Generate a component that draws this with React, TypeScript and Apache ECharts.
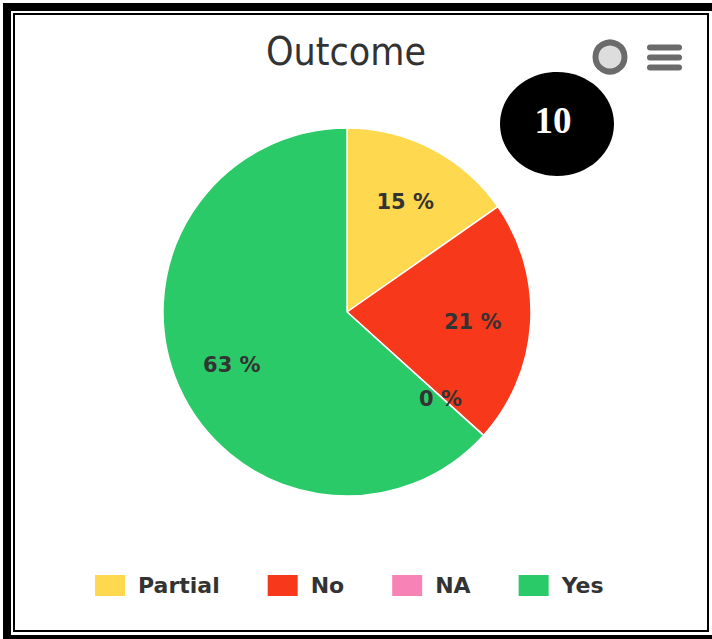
import React, { useEffect, useRef } from "react";
import * as echarts from "echarts";

const categories = ["Partial", "No", "NA", "Yes"];
const values = [15.3, 21.4, 0, 63.3];
const colors = ["#FED84E", "#F8381B", "#F782B6", "#2ACA68"];
const badgeText = "10";
const titleText = "Outcome";

export default function App() {
  const ref = useRef<HTMLDivElement>(null);
  useEffect(() => {
    if (!ref.current) return;
    const chart = echarts.init(ref.current, undefined, { renderer: "svg" });
    const data = categories.map((name, i) => ({
      name,
      value: values[i],
      itemStyle: { color: colors[i] },
    }));
    chart.setOption({
      animation: false,
      backgroundColor: "transparent",
      title: {
        text: titleText,
        left: 341,
        top: 27,
        textAlign: "center",
        textStyle: {
          fontFamily: "'DejaVu Sans Condensed', 'DejaVu Sans', sans-serif",
          fontSize: 39,
          fontWeight: "normal",
          color: "#333333",
        },
      },
      legend: {
        data: categories.map((name, i) => ({ name, itemStyle: { color: colors[i] } })),
        left: 93,
        top: 573,
        padding: 0,
        icon: "rect",
        itemWidth: 32,
        itemHeight: 23,
        itemGap: 46,
        selectedMode: false,
        textStyle: {
          fontFamily: "'DejaVu Sans', sans-serif",
          fontSize: 22,
          fontWeight: "bold",
          color: "#333333",
          padding: [0, 0, 0, 7],
        },
      },
      series: [
        {
          type: "pie",
          center: [347, 312],
          radius: [0, 184],
          startAngle: 90,
          clockwise: true,
          label: { show: false },
          labelLine: { show: false },
          emphasis: { disabled: true },
          itemStyle: { borderColor: "#ffffff", borderWidth: 1.5 },
          data,
        },
        {
          type: "pie",
          center: [347, 314],
          radius: [62, 184],
          startAngle: 90,
          clockwise: true,
          silent: true,
          emphasis: { disabled: true },
          itemStyle: { color: "rgba(0,0,0,0)", borderWidth: 0 },
          labelLine: { show: false },
          label: {
            show: true,
            position: "inside",
            formatter: (p: any) => Math.round(p.percent) + " %",
            fontFamily: "'DejaVu Sans', sans-serif",
            fontSize: 21,
            fontWeight: "bold",
            color: "#333333",
          },
          data: categories.map((name, i) => ({ name, value: values[i] })),
        },
      ],
      graphic: [
        {
          type: "circle",
          shape: { cx: 610, cy: 57, r: 14.5 },
          style: { fill: "#dddddd", stroke: "#6b6b6b", lineWidth: 6 },
        },
        {
          type: "rect",
          shape: { x: 647, y: 44.5, width: 35, height: 6, r: 3 },
          style: { fill: "#6b6b6b" },
        },
        {
          type: "rect",
          shape: { x: 647, y: 54.5, width: 35, height: 6, r: 3 },
          style: { fill: "#6b6b6b" },
        },
        {
          type: "rect",
          shape: { x: 647, y: 64.5, width: 35, height: 6, r: 3 },
          style: { fill: "#6b6b6b" },
        },
        {
          type: "ellipse",
          shape: { cx: 557, cy: 124, rx: 57, ry: 52 },
          style: { fill: "#000000" },
        },
        {
          type: "text",
          x: 553,
          y: 120,
          style: {
            text: badgeText,
            fill: "#ffffff",
            fontFamily: "'Liberation Serif', 'Times New Roman', serif",
            fontWeight: "bold",
            fontSize: 37,
            textAlign: "center",
            textVerticalAlign: "middle",
          },
        },
      ],
    });
    return () => chart.dispose();
  }, []);

  return (
    <div
      style={{
        position: "fixed",
        left: 0,
        top: 0,
        width: 712,
        height: 639,
        overflow: "hidden",
        background: "#ffffff",
      }}
    >
      <div
        style={{
          position: "absolute",
          left: 3,
          top: 3,
          width: 740,
          height: 660,
          boxSizing: "border-box",
          border: "8px solid #000000",
          borderRight: "none",
          borderBottom: "none",
        }}
      />
      <div
        style={{
          position: "absolute",
          left: 3,
          top: 635,
          width: 740,
          height: 10,
          background: "#000000",
        }}
      />
      <div
        style={{
          position: "absolute",
          left: 13,
          top: 13,
          width: 696,
          height: 619,
          boxSizing: "border-box",
          border: "2px solid #000000",
        }}
      />
      <div
        ref={ref}
        style={{ position: "absolute", left: 0, top: 0, width: 712, height: 639 }}
      />
    </div>
  );
}
